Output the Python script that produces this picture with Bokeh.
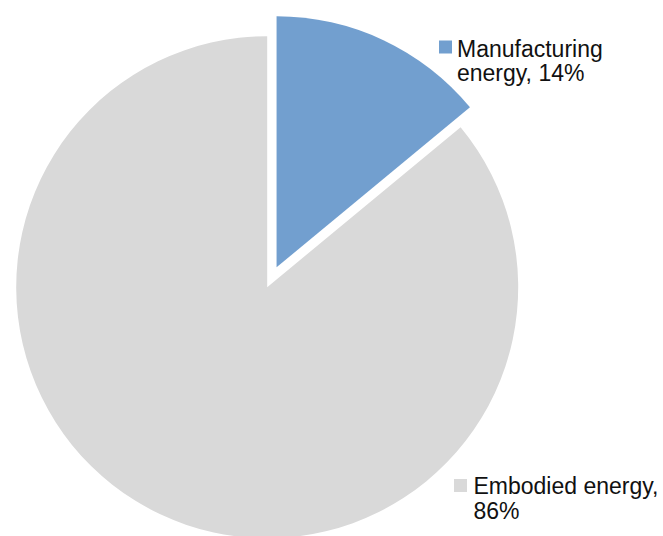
import math
from bokeh.plotting import figure
from bokeh.models import Range1d, ColumnDataSource
from bokeh.core.properties import value
from bokeh.embed import file_html
from bokeh.resources import INLINE

# ---- data ----
categories = ["Manufacturing energy", "Embodied energy"]
shares = [14, 86]
colors = ["#729FCF", "#D9D9D9"]
explode = [1, 0]

W, H = 663, 536
p = figure(width=W, height=H, output_backend="svg", toolbar_location=None,
           x_range=Range1d(0, W), y_range=Range1d(0, H), min_border=0)
p.axis.visible = False
p.grid.visible = False
p.outline_line_color = None
p.background_fill_color = "white"
p.border_fill_color = "white"

cx, cy, r = 266.7, H - 286.7, 251
dist = 22

total = sum(shares)
start = math.pi / 2
xs, ys, sa, ea = [], [], [], []
for s, e in zip(shares, explode):
    span = 2 * math.pi * s / total
    end = start - span
    mid = (start + end) / 2
    xs.append(cx + e * dist * math.cos(mid))
    ys.append(cy + e * dist * math.sin(mid))
    sa.append(end)
    ea.append(start)
    start = end

src = ColumnDataSource(dict(x=xs, y=ys, sa=sa, ea=ea, color=colors))
p.wedge(x="x", y="y", radius=r, start_angle="sa", end_angle="ea",
        fill_color="color", line_color=None, source=src)

# labels
lab_text = [["Manufacturing", f"energy, {shares[0]}%"],
            ["Embodied energy,", f"{shares[1]}%"]]
lab_pos = [(456.5, 48, 445, 46.5), (473, 485.5, 460, 485)]
fs = 23
lh = 24.5
tx, ty, tt = [], [], []
mx, my, mc = [], [], []
for (x0, yb, sqx, sqy), lines, c in zip(lab_pos, lab_text, colors):
    for i, ln in enumerate(lines):
        tx.append(x0)
        ty.append(H - (yb + i * lh))
        tt.append(ln)
    mx.append(sqx)
    my.append(H - sqy)
    mc.append(c)

p.scatter(x=mx, y=my, marker="square", size=13, fill_color=mc, line_color=None)
p.text(x=tx, y=ty, text=tt, text_font=value("Liberation Sans"),
       text_font_size=f"{fs}px", text_color="#111111", text_baseline="alphabetic",
       text_align="left")

open("out.html", "w").write(file_html(p, INLINE))
